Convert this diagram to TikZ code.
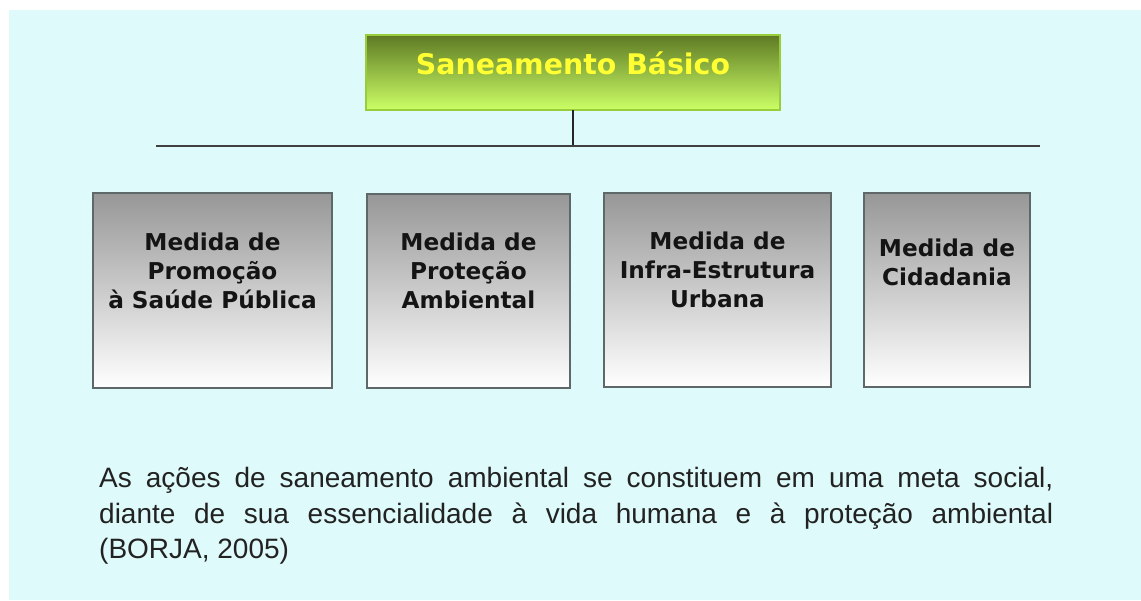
\documentclass[tikz,border=0pt]{standalone}
\usepackage{fontspec}
\setmainfont{Liberation Sans}
\newfontfamily\vfont{DejaVu Sans}
\definecolor{bgcyan}{HTML}{DFFAFA}
\definecolor{olivetop}{HTML}{5E7A24}
\definecolor{olivemid}{HTML}{B2E353}
\definecolor{limebot}{HTML}{CCFF66}
\definecolor{limeborder}{HTML}{9ACD3A}
\definecolor{titleyellow}{HTML}{FFFF33}
\definecolor{boxgray}{HTML}{979797}
\definecolor{boxborder}{HTML}{5E6868}
\definecolor{bodytext}{HTML}{222222}
\tikzset{
  titlebox/.style={draw=limeborder, line width=1.5pt, top color=olivetop, middle color=olivemid, bottom color=limebot},
  medbox/.style={draw=boxborder, line width=1.4pt, top color=boxgray, bottom color=white},
  medtext/.style={align=center, text=black!92, font=\vfont\bfseries\fontsize{23.2}{29}\selectfont, inner sep=0pt},
  bodyline/.style={anchor=base west, inner sep=0pt, text=bodytext, font=\fontsize{28}{35}\selectfont},
  connector/.style={line width=1.3pt, draw=black!85}
}
\begin{document}
\begin{tikzpicture}[x=1pt,y=-1pt]
\useasboundingbox (0,0) rectangle (1141,600);
\fill[white] (0,0) rectangle (1141,600);
\fill[bgcyan] (9,10) rectangle (1141,600);
% title box
\shade[titlebox] (366,35) rectangle (780,110);
\node[text=titleyellow, font=\vfont\bfseries\fontsize{28.4}{32}\selectfont, inner sep=0pt] (title) at (573,63) {Saneamento Básico};
\coordinate (tb) at (573,110);
\coordinate (hj) at (573,146);
\coordinate (hl) at (156,146);
\coordinate (hr) at (1040,146);
\draw[connector] (tb) -- (hj);
\draw[connector, draw=black!75] (hl) -- (hr);
% boxes
\shade[medbox] (93,193) rectangle (332,388);
\shade[medbox] (367,194) rectangle (570,388);
\shade[medbox] (604,193) rectangle (831,387);
\shade[medbox] (864,193) rectangle (1030,387);
\node[medtext] (m1) at (212.5,271) {Medida de\\Promoção\\à Saúde Pública};
\node[medtext] (m2) at (468.5,271) {Medida de\\Proteção\\Ambiental};
\node[medtext] (m3) at (717.5,270) {Medida de\\Infra-Estrutura\\Urbana};
\node[medtext] (m4) at (947,262) {Medida de\\Cidadania};
% body text
\node[bodyline] (t1) at (99,487) {\makebox[954pt][s]{As ações de saneamento ambiental se constituem em uma meta social,}};
\node[bodyline] (t2) at (99,523) {\makebox[954pt][s]{diante de sua essencialidade à vida humana e à proteção ambiental}};
\node[bodyline] (t3) at (99,558) {(BORJA, 2005)};
\end{tikzpicture}
\end{document}
